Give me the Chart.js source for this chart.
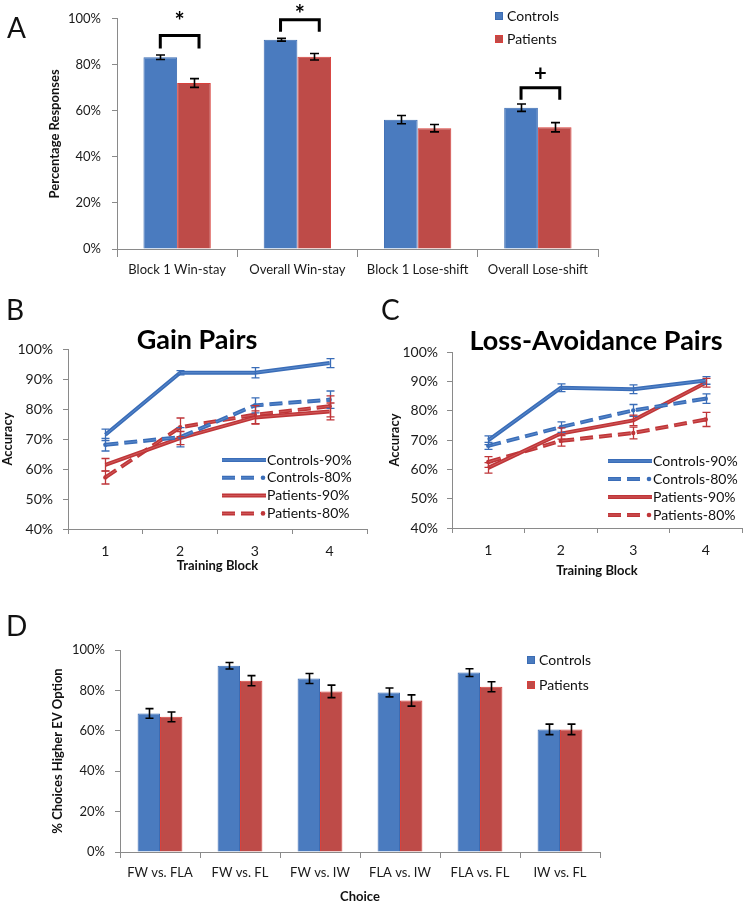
<!DOCTYPE html>
<html><head><meta charset="utf-8">
<script src="https://cdn.jsdelivr.net/npm/chart.js@4.4.0/dist/chart.umd.min.js"></script>
<style>
body{margin:0;background:#fff;width:749px;height:903px;position:relative;overflow:hidden;font-family:Lato,sans-serif;}
canvas{position:absolute;}
.lbl{position:absolute;font-family:Lato,sans-serif;line-height:1;color:#111;white-space:nowrap;}
.ttl{position:absolute;font-family:Lato,sans-serif;line-height:1;color:#000;font-weight:bold;font-size:27px;text-align:center;white-space:nowrap;}
</style></head><body>
<canvas id="cA" width="749" height="290" style="left:0;top:0"></canvas>
<canvas id="cB" width="375" height="290" style="left:0;top:290px"></canvas>
<canvas id="cC" width="374" height="290" style="left:375px;top:290px"></canvas>
<canvas id="cD" width="749" height="303" style="left:0;top:600px"></canvas>
<div class="lbl" style="left:7px;top:13px;font-size:28px">A</div>
<div class="lbl" style="left:6px;top:295px;font-size:28px">B</div>
<div class="lbl" style="left:381px;top:295px;font-size:28px">C</div>
<div class="lbl" style="left:6px;top:611px;font-size:28px">D</div>
<div class="ttl" style="left:97px;width:200px;top:325px">Gain Pairs</div>
<div class="ttl" style="left:446px;width:300px;top:326px">Loss-Avoidance Pairs</div>
<script>
// ---------- DATA ----------
const seriesNames = ['Controls', 'Patients'];

// Panel A
const strategyCategories = ['Block 1 Win-stay', 'Overall Win-stay', 'Block 1 Lose-shift', 'Overall Lose-shift'];
const strategyControls = [83.3, 90.9, 56.2, 61.4];
const strategyControlsErr = [1.0, 0.6, 1.8, 1.6];
const strategyPatients = [72.1, 83.5, 52.5, 52.9];
const strategyPatientsErr = [1.9, 1.4, 1.6, 2.0];
const strategyTicks = ['0%', '20%', '40%', '60%', '80%', '100%'];
// significance markers (category index, bracket top, leg bottom, mark position, mark)
const sigCategory = [0, 1, 3];
const sigTop = [92.7, 99.6, 70.0];
const sigLeg = [87.1, 94.4, 64.8];
const sigMarkPos = [100.9, 104.3, 76.0];
const sigMark = ['*', '*', '+'];

// Panels B & C
const blockLabels = ['1', '2', '3', '4'];
const lineSeriesNames = ['Controls-90%', 'Controls-80%', 'Patients-90%', 'Patients-80%'];
const accuracyTicks = ['40%', '50%', '60%', '70%', '80%', '90%', '100%'];

const gainControls90 = [71.4, 92.1, 92.1, 95.3];
const gainControls90Err = [1.9, 0.7, 1.7, 1.5];
const gainControls80 = [68.1, 70.6, 81.2, 83.1];
const gainControls80Err = [2.1, 3.2, 2.5, 2.9];
const gainPatients90 = [61.4, 70.3, 77.2, 79.2];
const gainPatients90Err = [2.1, 2.2, 2.2, 2.8];
const gainPatients80 = [57.2, 73.9, 78.1, 80.9];
const gainPatients80Err = [2.2, 3.1, 3.0, 3.5];

const lossControls90 = [69.9, 87.8, 87.3, 90.3];
const lossControls90Err = [1.5, 1.3, 1.5, 1.3];
const lossControls80 = [68.0, 74.4, 80.1, 84.1];
const lossControls80Err = [1.2, 1.8, 2.0, 1.6];
const lossPatients90 = [60.5, 72.2, 76.7, 89.5];
const lossPatients90Err = [1.8, 1.9, 1.8, 1.5];
const lossPatients80 = [62.5, 69.7, 72.4, 77.0];
const lossPatients80Err = [1.8, 1.8, 2.0, 2.4];

// Panel D
const choiceCategories = ['FW vs. FLA', 'FW vs. FL', 'FW vs. IW', 'FLA vs. IW', 'FLA vs. FL', 'IW vs. FL'];
const choiceControls = [68.6, 92.2, 85.9, 79.0, 88.8, 60.7];
const choiceControlsErr = [2.4, 1.6, 2.5, 2.2, 1.9, 2.6];
const choicePatients = [66.9, 84.8, 79.5, 75.0, 81.8, 60.7];
const choicePatientsErr = [2.4, 2.5, 3.1, 2.8, 2.5, 2.6];
const choiceTicks = ['0%', '20%', '40%', '60%', '80%', '100%'];

// ---------- STYLE ----------
Chart.defaults.font.family = 'Lato, sans-serif';
Chart.defaults.color = '#1a1a1a';
Chart.defaults.animation = false;
const AXIS = '#8a8a8a';
const BLUE = '#4A7BBF', BLUE_EDGE = '#3B6CB3';
const RED = '#BE4B48', RED_EDGE = '#D8403C';
const LBLUE = '#3A6DB8', LRED = '#BF3538';
const LBLUE_CORE = '#5B8BCC', LRED_CORE = '#D05A5A';

// ---------- PLUGINS ----------
const errorBarPlugin = {
  id: 'errorBars',
  afterDatasetsDraw(chart) {
    const ctx = chart.ctx, ys = chart.scales.y;
    chart.data.datasets.forEach((ds, i) => {
      if (!ds.errors) return;
      const meta = chart.getDatasetMeta(i);
      ctx.save();
      ctx.strokeStyle = ds.errorColor;
      ctx.lineWidth = ds.errorWidth;
      meta.data.forEach((el, j) => {
        const v = ds.data[j], e = ds.errors[j];
        const x = Math.round(el.x) + 0.5;
        const yt = ys.getPixelForValue(v + e), yb = ys.getPixelForValue(v - e);
        const c = ds.capWidth / 2;
        ctx.beginPath();
        ctx.moveTo(x, yt); ctx.lineTo(x, yb);
        ctx.moveTo(x - c, yt); ctx.lineTo(x + c, yt);
        ctx.moveTo(x - c, yb); ctx.lineTo(x + c, yb);
        ctx.stroke();
      });
      ctx.restore();
    });
  }
};

// lighter core stroke over each line (compound-line look), following the library's own points
const coreLinePlugin = {
  id: 'coreLine',
  afterDatasetDraw(chart, args) {
    const ds = chart.data.datasets[args.index];
    if (!ds.coreColor) return;
    const pts = args.meta.data;
    const ctx = chart.ctx;
    ctx.save();
    ctx.strokeStyle = ds.coreColor;
    ctx.lineWidth = 1;
    ctx.setLineDash(ds.borderDash || []);
    ctx.lineCap = 'butt';
    ctx.beginPath();
    pts.forEach((p, k) => { if (k === 0) ctx.moveTo(p.x, p.y); else ctx.lineTo(p.x, p.y); });
    ctx.stroke();
    ctx.restore();
  }
};

const legendPlugin = {
  id: 'customLegend',
  afterDraw(chart, args, o) {
    if (!o || o.x === undefined) return;
    const ctx = chart.ctx;
    ctx.save();
    ctx.font = o.font;
    ctx.textBaseline = 'middle';
    ctx.textAlign = 'left';
    chart.data.datasets.forEach((ds, i) => {
      const y = o.y + i * o.gap;
      if (o.kind === 'box') {
        ctx.fillStyle = ds.backgroundColor;
        ctx.fillRect(o.x, y - 4, 8, 8);
        ctx.strokeStyle = ds.borderColor; ctx.lineWidth = 1;
        ctx.strokeRect(o.x + 0.5, y - 3.5, 7, 7);
        ctx.fillStyle = '#111';
        ctx.fillText(ds.label, o.x + 12, y);
      } else {
        const dashed = ds.borderDash && ds.borderDash.length;
        const end = dashed ? o.x + 33 : o.x + o.len;
        [[ds.borderColor, ds.borderWidth], [ds.coreColor, 1]].forEach(([col, w]) => {
          ctx.strokeStyle = col; ctx.lineWidth = w; ctx.lineCap = 'butt';
          ctx.setLineDash(ds.borderDash || []);
          ctx.beginPath(); ctx.moveTo(o.x, y); ctx.lineTo(end, y); ctx.stroke();
        });
        ctx.setLineDash([]);
        if (dashed) {
          ctx.fillStyle = ds.borderColor;
          ctx.beginPath(); ctx.arc(o.x + o.len - 3, y, 2.3, 0, Math.PI * 2); ctx.fill();
        }
        ctx.fillStyle = '#111';
        ctx.fillText(ds.label, o.x + o.len + 1, y);
      }
    });
    ctx.restore();
  }
};

const bracketPlugin = {
  id: 'brackets',
  afterDatasetsDraw(chart) {
    const ctx = chart.ctx, ys = chart.scales.y;
    const m0 = chart.getDatasetMeta(0), m1 = chart.getDatasetMeta(1);
    ctx.save();
    ctx.strokeStyle = '#000'; ctx.fillStyle = '#000';
    ctx.lineWidth = 3; ctx.lineJoin = 'miter'; ctx.lineCap = 'butt';
    sigCategory.forEach((c, k) => {
      const b0 = m0.data[c], b1 = m1.data[c];
      const x1 = b0.x, x2 = b1.x + b1.width * 0.15;
      const yt = ys.getPixelForValue(sigTop[k]), yl = ys.getPixelForValue(sigLeg[k]);
      ctx.beginPath();
      ctx.moveTo(x1, yl); ctx.lineTo(x1, yt); ctx.lineTo(x2, yt); ctx.lineTo(x2, yl);
      ctx.stroke();
      const star = sigMark[k] === '*';
      ctx.font = star ? 'bold 24px Lato, sans-serif' : 'bold 22px Lato, sans-serif';
      ctx.textAlign = 'center'; ctx.textBaseline = 'middle';
      const ym = ys.getPixelForValue(sigMarkPos[k]);
      ctx.fillText(sigMark[k], (x1 + x2) / 2, star ? ym + 6 : ym);
    });
    ctx.restore();
  }
};

// ---------- SCALE BUILDERS ----------
function makeY(o) {
  return {
    min: o.min, max: o.max,
    ticks: { stepSize: o.step, callback: (v, i) => o.labels[i], font: { size: o.tickSize }, padding: o.tickPad, color: '#1a1a1a' },
    grid: { display: true, drawOnChartArea: false, drawTicks: true, tickLength: 5, color: AXIS },
    border: { display: true, color: AXIS, width: 1 },
    title: { display: true, text: o.title, color: '#111', font: { size: 13, weight: 'bold' }, padding: { top: o.titlePad, bottom: 0 } },
    afterFit(s) { s.width = o.width; }
  };
}
function makeX(o) {
  return {
    offset: true,
    ticks: { autoSkip: false, maxRotation: 0, minRotation: 0, font: { size: o.tickSize }, padding: o.tickPad, color: '#1a1a1a' },
    grid: { display: true, offset: true, drawOnChartArea: false, drawTicks: true, tickLength: o.tickLen, color: AXIS },
    border: { display: true, color: AXIS, width: 1 },
    title: o.title ? { display: true, text: o.title, color: '#111', font: { size: 13, weight: 'bold', lineHeight: o.titleLH || 1.2 }, padding: { top: 0, bottom: o.titlePad } } : { display: false },
    afterFit(s) { s.height = o.height; }
  };
}

function barDatasets(c, ce, p, pe, cap) {
  return [
    { label: seriesNames[0], data: c, errors: ce, backgroundColor: BLUE, borderColor: BLUE_EDGE, borderWidth: 1,
      errorColor: '#000', errorWidth: 1.6, capWidth: cap, barPercentage: 1, categoryPercentage: 0.56 },
    { label: seriesNames[1], data: p, errors: pe, backgroundColor: RED, borderColor: RED_EDGE, borderWidth: 1,
      errorColor: '#000', errorWidth: 1.6, capWidth: cap, barPercentage: 1, categoryPercentage: 0.56 }
  ];
}

function lineDatasets(arr) {
  const colors = [LBLUE, LBLUE, LRED, LRED];
  const cores = [LBLUE_CORE, LBLUE_CORE, LRED_CORE, LRED_CORE];
  const dashed = [false, true, false, true];
  return arr.map((d, i) => ({
    label: lineSeriesNames[i], data: d[0], errors: d[1],
    borderColor: colors[i], backgroundColor: colors[i], borderWidth: 4, coreColor: cores[i],
    borderDash: dashed[i] ? [13, 6] : [], borderCapStyle: 'butt',
    pointRadius: dashed[i] ? 2.2 : 0, pointBackgroundColor: colors[i], pointBorderWidth: 0,
    tension: 0, fill: false,
    errorColor: colors[i], errorWidth: 1.3, capWidth: 8
  }));
}

const common = { responsive: false, maintainAspectRatio: false, animation: false, events: [] };

// ---------- PANEL A ----------
new Chart(document.getElementById('cA'), {
  type: 'bar',
  data: { labels: strategyCategories, datasets: barDatasets(strategyControls, strategyControlsErr, strategyPatients, strategyPatientsErr, 9) },
  options: Object.assign({}, common, {
    layout: { padding: { left: 0, top: 16, right: 151, bottom: 0 } },
    plugins: { legend: { display: false }, tooltip: { enabled: false },
      customLegend: { kind: 'box', x: 495, y: 16, gap: 23, font: '14px Lato, sans-serif' } },
    scales: {
      x: makeX({ tickSize: 13, tickPad: 5, tickLen: 8, height: 41 }),
      y: makeY({ min: 0, max: 100, step: 20, labels: strategyTicks, tickSize: 13, tickPad: 11, title: 'Percentage Responses', titlePad: 47, width: 117 })
    }
  }),
  plugins: [errorBarPlugin, bracketPlugin, legendPlugin]
});

// ---------- PANEL B ----------
new Chart(document.getElementById('cB'), {
  type: 'line',
  data: { labels: blockLabels, datasets: lineDatasets([
    [gainControls90, gainControls90Err], [gainControls80, gainControls80Err],
    [gainPatients90, gainPatients90Err], [gainPatients80, gainPatients80Err]]) },
  options: Object.assign({}, common, {
    layout: { padding: { left: 0, top: 59, right: 8, bottom: 0 } },
    plugins: { legend: { display: false }, tooltip: { enabled: false },
      customLegend: { kind: 'line', x: 222, y: 170, gap: 17.8, len: 44, font: '14px Lato, sans-serif' } },
    scales: {
      x: makeX({ tickSize: 14, tickPad: 9, tickLen: 5, height: 51, title: 'Training Block', titlePad: 6 }),
      y: makeY({ min: 40, max: 100, step: 10, labels: accuracyTicks, tickSize: 14, tickPad: 10, title: 'Accuracy', titlePad: 0, width: 68 })
    }
  }),
  plugins: [coreLinePlugin, errorBarPlugin, legendPlugin]
});

// ---------- PANEL C ----------
new Chart(document.getElementById('cC'), {
  type: 'line',
  data: { labels: blockLabels, datasets: lineDatasets([
    [lossControls90, lossControls90Err], [lossControls80, lossControls80Err],
    [lossPatients90, lossPatients90Err], [lossPatients80, lossPatients80Err]]) },
  options: Object.assign({}, common, {
    layout: { padding: { left: 0, top: 62, right: 7, bottom: 0 } },
    plugins: { legend: { display: false }, tooltip: { enabled: false },
      customLegend: { kind: 'line', x: 233, y: 171, gap: 18, len: 44, font: '14px Lato, sans-serif' } },
    scales: {
      x: makeX({ tickSize: 14, tickPad: 9, tickLen: 5, height: 52, title: 'Training Block', titlePad: 1 }),
      y: makeY({ min: 40, max: 100, step: 10, labels: accuracyTicks, tickSize: 14, tickPad: 9, title: 'Accuracy', titlePad: 12, width: 77 })
    }
  }),
  plugins: [coreLinePlugin, errorBarPlugin, legendPlugin]
});

// ---------- PANEL D ----------
new Chart(document.getElementById('cD'), {
  type: 'bar',
  data: { labels: choiceCategories, datasets: barDatasets(choiceControls, choiceControlsErr, choicePatients, choicePatientsErr, 8) },
  options: Object.assign({}, common, {
    layout: { padding: { left: 0, top: 50, right: 149, bottom: 0 } },
    plugins: { legend: { display: false }, tooltip: { enabled: false },
      customLegend: { kind: 'box', x: 527, y: 60, gap: 25, font: '14px Lato, sans-serif' } },
    scales: {
      x: makeX({ tickSize: 13, tickPad: 7, tickLen: 6, height: 51, title: 'Choice', titlePad: 0, titleLH: 1 }),
      y: makeY({ min: 0, max: 100, step: 20, labels: choiceTicks, tickSize: 13, tickPad: 10, title: '% Choices Higher EV Option', titlePad: 50, width: 120 })
    }
  }),
  plugins: [errorBarPlugin, legendPlugin]
});
</script>
</body></html>
